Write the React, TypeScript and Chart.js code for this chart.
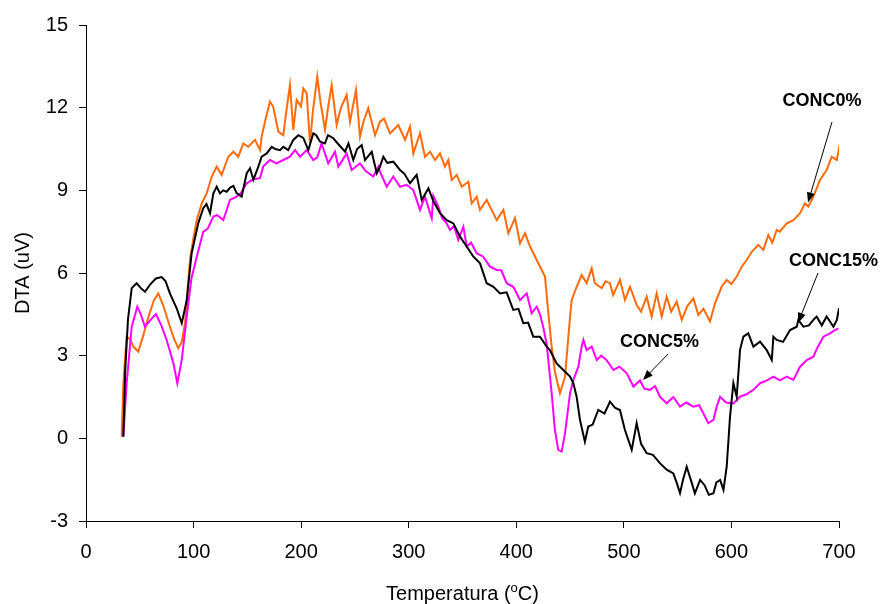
import React, { useEffect, useRef } from "react";
import { Chart, registerables } from "chart.js";

Chart.register(...registerables);

// CONC0% (orange)
const tempConc0 = [33.2, 34.7, 37.8, 41, 44, 48.6, 53, 58, 63, 67.2, 72, 78, 82, 85.8, 89, 92, 96.7, 100, 103, 107.6, 112.2, 116.9, 121.5, 126.1, 132.3, 137, 141.6, 146.2, 150.9, 157.1, 161.8, 163.3, 167, 171, 174, 178.8, 183.4, 186, 189.6, 192.7, 195.8, 199.9, 202, 205.2, 208.2, 211, 215, 218, 222.2, 225, 228.4, 233, 237, 242.3, 245.4, 251, 254.7, 258, 262.4, 268.7, 273.3, 277, 282.6, 286, 290.3, 296.6, 301.2, 304.3, 310.5, 315.1, 319.8, 324.4, 329.1, 333.7, 336.8, 340, 344.6, 349.3, 355.4, 358.5, 363.2, 366.2, 372.5, 377.1, 381.8, 388, 392.6, 398.8, 403.5, 408.1, 412.8, 419, 423.6, 426.7, 429.8, 432.9, 436, 440.6, 445.3, 450, 451.5, 456.1, 460.8, 465.4, 470.1, 473, 479.4, 483, 487.1, 490, 496.4, 501, 505.7, 511.9, 516, 521.2, 525.8, 530.5, 535.2, 539.8, 544, 549.1, 553.8, 559, 564.6, 569.2, 574, 580.1, 584.7, 590.9, 595.6, 600, 604.9, 609.6, 614.2, 618.9, 625, 629.7, 634.3, 638, 642.1, 645, 651.4, 657.6, 663.8, 668.4, 671.5, 676.2, 682.3, 688.5, 693.2, 697.9, 700.9];
const dtaConc0 = [0.06, 2.0, 3.69, 3.6, 3.33, 3.15, 3.7, 4.4, 5.0, 5.26, 4.8, 4.05, 3.6, 3.27, 3.5, 4.18, 6.5, 7.3, 7.92, 8.53, 8.89, 9.5, 9.86, 9.56, 10.22, 10.4, 10.22, 10.7, 10.58, 10.83, 10.46, 10.95, 11.6, 12.22, 12.04, 11.13, 11.0, 11.8, 12.82, 11.19, 12.28, 12.04, 12.7, 12.52, 10.7, 11.9, 13.12, 12.2, 11.19, 12.0, 12.82, 11.37, 12.0, 12.46, 11.49, 12.64, 10.95, 11.5, 11.98, 11.0, 11.49, 11.6, 11.07, 11.2, 11.37, 10.83, 11.31, 10.34, 11.07, 10.22, 10.4, 10.1, 10.34, 9.86, 10.1, 9.38, 9.56, 9.13, 9.31, 8.53, 8.77, 8.29, 8.65, 8.29, 7.92, 8.29, 7.44, 7.99, 7.08, 7.44, 6.96, 6.47, 6.11, 5.87, 4.54, 3.33, 2.4, 1.64, 2.24, 4.42, 5.02, 5.5, 5.93, 5.63, 6.17, 5.63, 5.45, 5.7, 5.63, 5.2, 5.75, 5.02, 5.5, 4.84, 4.6, 5.14, 4.42, 5.26, 4.42, 5.14, 4.6, 4.96, 4.3, 4.8, 5.08, 4.48, 4.7, 4.24, 4.9, 5.5, 5.75, 5.6, 5.87, 6.23, 6.47, 6.77, 7.02, 6.84, 7.38, 7.1, 7.56, 7.5, 7.8, 7.92, 8.17, 8.53, 8.41, 8.77, 9.38, 9.74, 10.22, 10.1, 10.7];

// CONC15% (black)
const tempConc15 = [34.7, 36.5, 39, 42.5, 47, 51, 54.8, 60, 65, 70.4, 74, 78, 84.3, 89, 93.6, 98.2, 104.4, 109, 112, 115.3, 118.4, 121.5, 124.6, 127.5, 130.8, 134, 137, 140, 144.7, 149.4, 152.5, 155.6, 160.2, 163.3, 168, 172.6, 176, 180.3, 183.4, 188, 192.7, 197.4, 202, 206.7, 211.3, 214, 217.5, 222, 225, 229.9, 234, 240.8, 244, 248.5, 252, 256.3, 259.4, 265.6, 270.3, 273.3, 276.4, 280, 285.7, 291.9, 296, 301.2, 307.4, 312.1, 318.3, 323, 329.1, 335.3, 341.5, 347.7, 353.9, 360, 366.3, 372.5, 378.7, 384.9, 391, 397.2, 402, 406.5, 411, 415.8, 422, 428.3, 431.3, 437.5, 443.7, 450, 453.1, 456.1, 459.2, 463.8, 466.9, 471, 476.2, 482, 487.1, 492, 496.4, 501, 507.3, 511.9, 516, 521.2, 527, 533.5, 539.8, 546, 549, 552.2, 555, 558.4, 563, 566, 570.9, 575, 579, 583.3, 586, 589.5, 592.6, 595.6, 598.7, 601.8, 604.9, 608, 611.1, 615.7, 620.4, 626.6, 632.8, 637.5, 639, 642.1, 648, 654.5, 660.7, 662.2, 666.9, 672, 676.2, 679.2, 684, 688.5, 694.8, 698, 700];
const dtaConc15 = [0.06, 2.5, 4.3, 5.45, 5.63, 5.45, 5.32, 5.6, 5.8, 5.85, 5.7, 5.26, 4.72, 4.18, 5.0, 6.72, 7.81, 8.35, 8.5, 8.17, 8.89, 9.13, 8.89, 9.0, 8.95, 9.1, 9.16, 8.9, 8.77, 9.62, 9.8, 9.38, 9.86, 10.22, 10.34, 10.58, 10.5, 10.46, 10.58, 10.46, 10.83, 11.0, 10.9, 10.46, 11.07, 11.0, 10.77, 10.7, 11.0, 10.89, 10.7, 10.4, 10.7, 10.1, 10.5, 10.64, 10.1, 10.4, 9.62, 9.86, 10.22, 10.0, 10.04, 9.74, 9.6, 9.26, 9.56, 8.65, 9.07, 8.6, 8.17, 7.92, 7.8, 7.32, 6.96, 6.6, 6.35, 5.63, 5.5, 5.26, 5.3, 4.66, 4.7, 4.18, 4.2, 3.69, 3.69, 3.33, 3.2, 2.72, 2.48, 2.24, 2.0, 1.51, 0.67, -0.12, 0.43, 0.5, 1.03, 0.9, 1.33, 1.1, 1.03, 0.3, -0.42, 0.55, -0.2, -0.54, -0.6, -0.9, -1.14, -1.27, -1.6, -1.99, -1.5, -1.03, -1.6, -2.0, -1.51, -1.7, -2.05, -1.99, -1.6, -1.51, -1.87, -1.03, 0.79, 2.0, 1.51, 3.21, 3.69, 3.81, 3.33, 3.51, 3.2, 2.84, 3.69, 3.57, 3.5, 3.93, 4.05, 4.3, 4.05, 4.1, 4.3, 4.42, 4.1, 4.42, 4.05, 4.3, 4.72];

// CONC5% (magenta)
const tempConc5 = [34.7, 37.8, 42.5, 47.7, 51, 54.8, 60, 65, 70, 75, 81.2, 84.9, 89, 93.6, 98, 103, 109, 113, 118.4, 122, 127.6, 133.9, 140, 144, 149.4, 155.6, 161.8, 164.7, 171, 177, 183.4, 189.6, 194.3, 199, 205.2, 211.3, 215, 219, 225.2, 231.5, 234.6, 242.3, 247, 254.7, 260, 267.1, 271.8, 273.3, 279.5, 285.7, 291.9, 298, 304.3, 310.5, 315.1, 321.4, 322.9, 327.5, 331, 335.3, 338.4, 342, 346.1, 350.8, 353.9, 358, 363.2, 369, 375.6, 381.8, 386, 391.1, 397.2, 403.5, 409.7, 414.3, 419, 422, 425, 428.3, 432.9, 435.9, 439, 442.2, 445.3, 450, 453.1, 457.7, 460.8, 462.4, 465.4, 470.1, 474.8, 479, 484, 490.3, 496, 502.7, 508.9, 515, 519, 524.3, 529, 533.5, 539.8, 546, 552.2, 558, 564.6, 570, 574, 578.5, 583.3, 586.3, 589.5, 595, 601.8, 608, 614, 620.4, 626.6, 633, 639, 645, 651.4, 657.6, 663.8, 670, 676.2, 680, 685.5, 691.7, 695, 699.4];
const dtaConc5 = [0.06, 2.0, 4.05, 4.78, 4.5, 4.05, 4.3, 4.51, 4.1, 3.57, 2.73, 2.0, 2.84, 4.42, 5.8, 6.6, 7.5, 7.6, 8.05, 8.1, 7.92, 8.65, 8.77, 8.9, 9.26, 9.4, 9.44, 9.86, 10.1, 9.98, 10.1, 10.22, 10.46, 10.22, 10.46, 10.1, 10.2, 10.7, 9.98, 10.4, 9.86, 10.34, 9.74, 9.98, 9.7, 9.5, 9.86, 9.68, 9.13, 9.5, 9.13, 9.2, 9.01, 8.29, 8.77, 7.99, 8.8, 8.41, 8.0, 7.8, 7.56, 7.7, 7.2, 7.68, 6.96, 7.1, 6.72, 6.6, 6.23, 6.11, 6.1, 5.63, 5.5, 5.02, 5.26, 4.54, 4.78, 4.5, 4.05, 3.4, 1.64, 0.3, -0.42, -0.48, 0.18, 1.64, 2.12, 2.6, 3.33, 3.57, 3.2, 3.33, 2.84, 3.0, 2.84, 2.48, 2.6, 2.36, 1.88, 2.1, 1.8, 1.76, 1.9, 1.51, 1.27, 1.5, 1.15, 1.3, 1.15, 1.2, 0.9, 0.55, 0.67, 1.15, 1.51, 1.3, 1.27, 1.51, 1.6, 1.76, 2.0, 2.1, 2.24, 2.1, 2.24, 2.12, 2.6, 2.84, 2.96, 3.3, 3.69, 3.81, 3.9, 3.99];

const xTickValues = [0, 100, 200, 300, 400, 500, 600, 700];
const yTickValues = [-3, 0, 3, 6, 9, 12, 15];

// annotation labels (data units): text position, arrow start, arrow tip
const annotationTexts = ["CONC0%", "CONC15%", "CONC5%"];
const annotationTextAt = [[684.2, 12.24], [694.9, 6.44], [533.1, 3.5]];
const annotationArrowFrom = [[693.5, 11.48], [680.5, 6.0], [541.1, 3.06]];
const annotationArrowTo = [[671.2, 8.56], [661.9, 4.19], [517.8, 2.12]];

const FONT = '"Liberation Sans", Arial, Helvetica, sans-serif';

const toPoints = (xs: number[], ys: number[]) => xs.map((x, i) => ({ x, y: ys[i] }));

const overlayPlugin = {
  id: "overlay",
  afterDraw(chart: any) {
    const ctx = chart.ctx as CanvasRenderingContext2D;
    const xs = chart.scales.x;
    const ys = chart.scales.y;
    const area = chart.chartArea;
    ctx.save();
    ctx.fillStyle = "#000";
    ctx.strokeStyle = "#000";

    // y-axis title
    ctx.save();
    ctx.font = `20px ${FONT}`;
    ctx.translate(23, (area.top + area.bottom) / 2 + 0);
    ctx.rotate(-Math.PI / 2);
    ctx.textAlign = "center";
    ctx.textBaseline = "middle";
    ctx.fillText("DTA (uV)", 0, 0);
    ctx.restore();

    // x-axis title with superscript o
    const part1 = "Temperatura (";
    const sup = "o";
    const part2 = "C)";
    ctx.font = `20px ${FONT}`;
    const w1 = ctx.measureText(part1).width;
    const w3 = ctx.measureText(part2).width;
    ctx.font = `13px ${FONT}`;
    const w2 = ctx.measureText(sup).width;
    const total = w1 + w2 + w3;
    const cx = (area.left + area.right) / 2;
    const baseY = 600;
    let x0 = cx - total / 2;
    ctx.textAlign = "left";
    ctx.textBaseline = "alphabetic";
    ctx.font = `20px ${FONT}`;
    ctx.fillText(part1, x0, baseY);
    ctx.font = `13px ${FONT}`;
    ctx.fillText(sup, x0 + w1, baseY - 8);
    ctx.font = `20px ${FONT}`;
    ctx.fillText(part2, x0 + w1 + w2, baseY);

    // annotations
    ctx.font = `bold 18px ${FONT}`;
    ctx.textAlign = "center";
    ctx.textBaseline = "middle";
    annotationTexts.forEach((t, i) => {
      const tx = xs.getPixelForValue(annotationTextAt[i][0]);
      const ty = ys.getPixelForValue(annotationTextAt[i][1]);
      ctx.fillText(t, tx, ty);
      const ax = xs.getPixelForValue(annotationArrowFrom[i][0]);
      const ay = ys.getPixelForValue(annotationArrowFrom[i][1]);
      const bx = xs.getPixelForValue(annotationArrowTo[i][0]);
      const by = ys.getPixelForValue(annotationArrowTo[i][1]);
      const ang = Math.atan2(by - ay, bx - ax);
      const headLen = 10;
      const headW = 4;
      ctx.lineWidth = 1;
      ctx.beginPath();
      ctx.moveTo(ax, ay);
      ctx.lineTo(bx - Math.cos(ang) * headLen * 0.8, by - Math.sin(ang) * headLen * 0.8);
      ctx.stroke();
      ctx.beginPath();
      ctx.moveTo(bx, by);
      ctx.lineTo(
        bx - Math.cos(ang) * headLen + Math.cos(ang + Math.PI / 2) * headW,
        by - Math.sin(ang) * headLen + Math.sin(ang + Math.PI / 2) * headW
      );
      ctx.lineTo(
        bx - Math.cos(ang) * headLen - Math.cos(ang + Math.PI / 2) * headW,
        by - Math.sin(ang) * headLen - Math.sin(ang + Math.PI / 2) * headW
      );
      ctx.closePath();
      ctx.fill();
    });
    ctx.restore();
  },
};

export default function App() {
  const ref = useRef<HTMLCanvasElement | null>(null);

  useEffect(() => {
    if (!ref.current) return;
    const lineDs = (label: string, xs: number[], ys: number[], color: string, order: number) => ({
      label,
      data: toPoints(xs, ys),
      borderColor: color,
      backgroundColor: color,
      borderWidth: 2,
      pointRadius: 0,
      tension: 0,
      fill: false,
      order,
    });
    const chart = new Chart(ref.current, {
      type: "line",
      data: {
        datasets: [
          lineDs("CONC0%", tempConc0, dtaConc0, "#FF6A0A", 3),
          lineDs("CONC5%", tempConc5, dtaConc5, "#FF00FF", 2),
          lineDs("CONC15%", tempConc15, dtaConc15, "#000000", 1),
        ],
      },
      options: {
        responsive: false,
        animation: false,
        maintainAspectRatio: false,
        layout: { padding: { left: 0, top: 25, right: 42, bottom: 0 } },
        plugins: { legend: { display: false }, tooltip: { enabled: false }, title: { display: false } },
        scales: {
          x: {
            type: "linear",
            min: 0,
            max: 700,
            afterBuildTicks: (scale: any) => {
              scale.ticks = xTickValues.map((v) => ({ value: v }));
            },
            afterFit: (scale: any) => {
              scale.height = 83;
            },
            ticks: {
              color: "#000",
              font: { family: FONT, size: 20 },
              padding: 12,
              maxRotation: 0,
            },
            grid: {
              display: true,
              drawOnChartArea: false,
              drawTicks: true,
              tickLength: 7,
              color: "#000",
              lineWidth: 1,
            },
            border: { display: true, color: "#000", width: 1 },
          },
          y: {
            type: "linear",
            min: -3,
            max: 15,
            afterBuildTicks: (scale: any) => {
              scale.ticks = yTickValues.map((v) => ({ value: v }));
            },
            afterFit: (scale: any) => {
              scale.width = 86;
            },
            ticks: {
              color: "#000",
              font: { family: FONT, size: 20 },
              padding: 11,
            },
            grid: {
              display: true,
              drawOnChartArea: false,
              drawTicks: true,
              tickLength: 7,
              color: "#000",
              lineWidth: 1,
            },
            border: { display: true, color: "#000", width: 1 },
          },
        },
      },
      plugins: [overlayPlugin],
    } as any);
    return () => chart.destroy();
  }, []);

  return (
    <div style={{ position: "fixed", left: 0, top: 0, width: 881, height: 604, background: "#fff" }}>
      <canvas ref={ref} width={881} height={604} style={{ display: "block", width: 881, height: 604 }} />
    </div>
  );
}
